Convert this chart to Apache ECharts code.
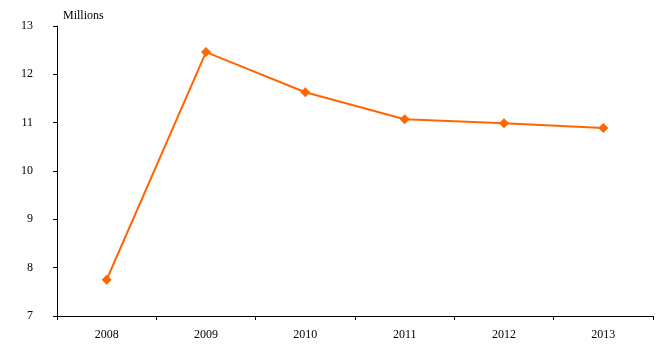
<!DOCTYPE html>
<html><head><meta charset="utf-8">
<script src="https://cdn.jsdelivr.net/npm/echarts@6/dist/echarts.min.js"></script>
<style>html,body{margin:0;padding:0;background:#fff}#c{width:666px;height:361px}</style>
</head><body><div id="c"></div>
<script>
var categories = ['2008','2009','2010','2011','2012','2013'];
var values = [7.75, 12.46, 11.63, 11.07, 10.99, 10.89];
var yTicks = {min: 7, max: 13, interval: 1};
var unitLabel = 'Millions';

var chart = echarts.init(document.getElementById('c'));
var font = '"Liberation Serif", "Times New Roman", serif';
chart.setOption({
  animation: false,
  grid: {left: 57, right: 13, top: 26, bottom: 45, containLabel: false},
  xAxis: {
    type: 'category', data: categories, boundaryGap: true,
    axisLine: {lineStyle: {color: '#000', width: 1}},
    axisTick: {show: true, length: 4, alignWithLabel: false, lineStyle: {color: '#000'}},
    axisLabel: {color: '#000', fontFamily: font, fontSize: 12, margin: 13}
  },
  yAxis: {
    type: 'value', min: yTicks.min, max: yTicks.max, interval: yTicks.interval,
    name: unitLabel, nameLocation: 'end', nameGap: 4,
    nameTextStyle: {color: '#000', fontFamily: font, fontSize: 12, align: 'left', padding: [0, 0, 0, 6]},
    axisLine: {show: true, lineStyle: {color: '#000', width: 1}},
    axisTick: {show: true, length: 4, lineStyle: {color: '#000'}},
    splitLine: {show: false},
    axisLabel: {color: '#000', fontFamily: font, fontSize: 12, margin: 24}
  },
  series: [{
    type: 'line', data: values,
    symbol: 'diamond', symbolSize: 10,
    lineStyle: {color: '#FF6600', width: 2},
    itemStyle: {color: '#FF6600'}
  }]
});
</script></body></html>
